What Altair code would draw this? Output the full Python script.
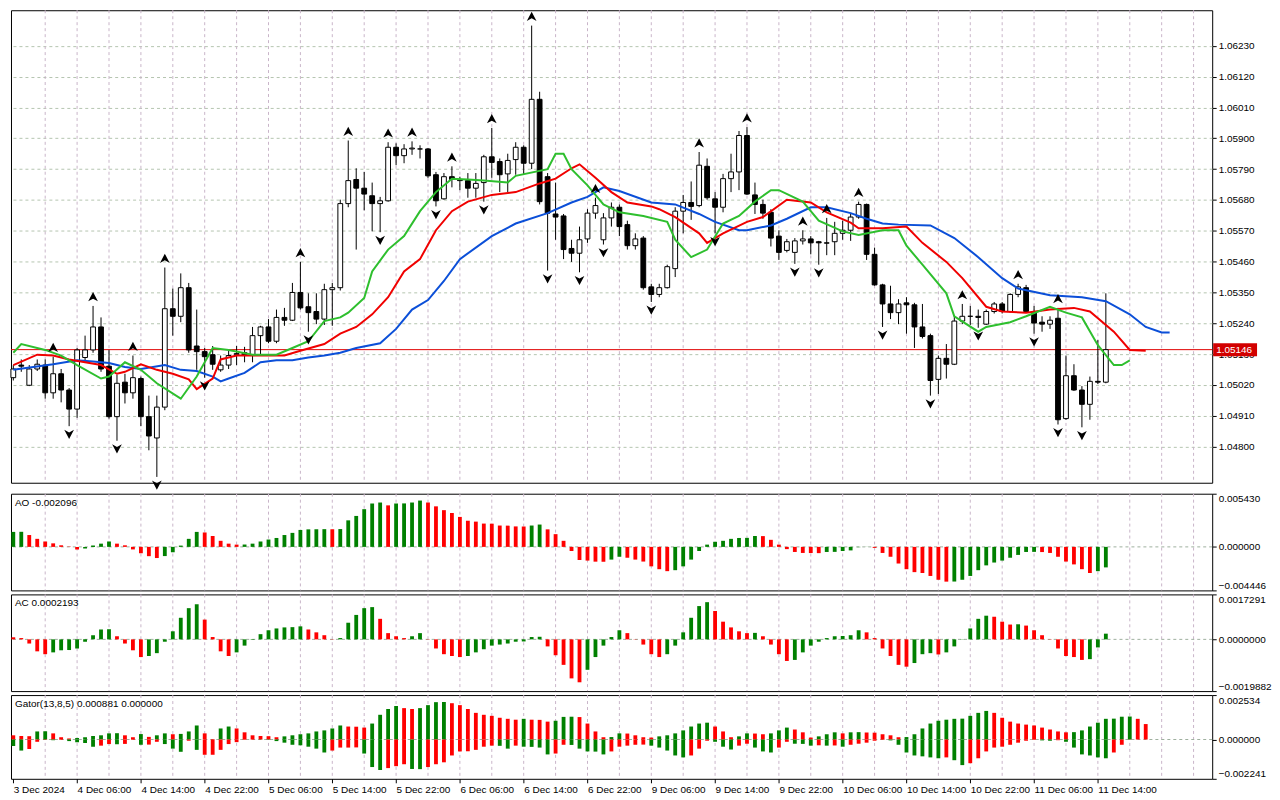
import altair as alt
import pandas as pd

# ---------------- data (EURUSD H1, 3 Dec 22:00 .. 11 Dec 15:00) ----------------
OPEN = [1.05046,1.05091,1.05019,1.05077,1.05091,1.04992,1.05060,1.05002,1.04934,1.05118,
        1.05145,1.05227,1.05087,1.04907,1.05030,1.04992,1.05043,1.04907,1.04831,1.04941,
        1.05292,1.05265,1.05367,1.05159,1.05139,1.05128,1.05074,1.05091,1.05128,1.05135,
        1.05125,1.05196,1.05227,1.05176,1.05261,1.05251,1.05350,1.05299,1.05282,1.05255,
        1.05360,1.05367,1.05667,1.05753,1.05722,1.05695,1.05667,1.05677,1.05868,1.05838,
        1.05862,1.05862,1.05862,1.05770,1.05684,1.05763,1.05753,1.05749,1.05722,1.05742,
        1.05834,1.05817,1.05773,1.05824,1.05868,1.05811,1.06039,1.05763,1.05630,1.05623,
        1.05507,1.05490,1.05541,1.05633,1.05538,1.05616,1.05654,1.05592,1.05517,1.05544,
        1.05370,1.05343,1.05367,1.05435,1.05640,1.05671,1.05660,1.05800,1.05684,1.05654,
        1.05756,1.05780,1.05910,1.05698,1.05664,1.05636,1.05551,1.05500,1.05493,1.05534,
        1.05541,1.05531,1.05527,1.05531,1.05561,1.05572,1.05619,1.05664,1.05486,1.05377,
        1.05309,1.05278,1.05313,1.05306,1.05227,1.05196,1.05040,1.05115,1.05094,1.05248,
        1.05265,1.05265,1.05237,1.05282,1.05309,1.05282,1.05343,1.05367,1.05278,1.05244,
        1.05237,1.05258,1.04900,1.05053,1.05002,1.04951,1.05033,1.05030]
HIGH = [1.05091,1.05111,1.05091,1.05111,1.05111,1.05121,1.05077,1.05009,1.05152,1.05196,
        1.05302,1.05261,1.05145,1.05057,1.05060,1.05125,1.05050,1.04982,1.04982,1.05439,
        1.05364,1.05418,1.05384,1.05289,1.05152,1.05159,1.05125,1.05145,1.05159,1.05156,
        1.05227,1.05231,1.05255,1.05289,1.05295,1.05384,1.05459,1.05347,1.05347,1.05381,
        1.05384,1.05681,1.05892,1.05793,1.05780,1.05742,1.05691,1.05886,1.05882,1.05879,
        1.05889,1.05875,1.05865,1.05780,1.05776,1.05800,1.05763,1.05776,1.05776,1.05841,
        1.05937,1.05828,1.05845,1.05886,1.05875,1.06302,1.06066,1.05776,1.05742,1.05630,
        1.05538,1.05585,1.05647,1.05688,1.05633,1.05671,1.05664,1.05606,1.05561,1.05551,
        1.05381,1.05381,1.05449,1.05654,1.05698,1.05746,1.05851,1.05828,1.05708,1.05773,
        1.05845,1.05926,1.05940,1.05742,1.05681,1.05647,1.05572,1.05541,1.05544,1.05572,
        1.05551,1.05534,1.05616,1.05602,1.05606,1.05630,1.05674,1.05667,1.05510,1.05381,
        1.05374,1.05326,1.05333,1.05313,1.05309,1.05203,1.05125,1.05166,1.05265,1.05309,
        1.05302,1.05289,1.05289,1.05316,1.05316,1.05347,1.05381,1.05377,1.05302,1.05265,
        1.05265,1.05295,1.05125,1.05094,1.05016,1.05050,1.05180,1.05347]
LOW = [1.05036,1.05067,1.05016,1.05070,1.04971,1.04971,1.04958,1.04873,1.04903,1.05108,
       1.05135,1.05067,1.04900,1.04821,1.04954,1.04971,1.04873,1.04787,1.04692,1.04930,
       1.05196,1.05244,1.05135,1.05074,1.05046,1.05074,1.05067,1.05077,1.05091,1.05101,
       1.05101,1.05128,1.05169,1.05169,1.05231,1.05248,1.05289,1.05210,1.05237,1.05234,
       1.05231,1.05357,1.05654,1.05503,1.05643,1.05568,1.05565,1.05674,1.05804,1.05811,
       1.05841,1.05828,1.05759,1.05657,1.05681,1.05725,1.05715,1.05688,1.05688,1.05674,
       1.05759,1.05708,1.05708,1.05770,1.05773,1.05790,1.05664,1.05428,1.05538,1.05469,
       1.05459,1.05422,1.05527,1.05613,1.05521,1.05585,1.05551,1.05503,1.05503,1.05360,
       1.05316,1.05333,1.05364,1.05405,1.05561,1.05609,1.05654,1.05681,1.05561,1.05636,
       1.05708,1.05715,1.05698,1.05630,1.05613,1.05514,1.05466,1.05493,1.05452,1.05521,
       1.05486,1.05449,1.05483,1.05483,1.05538,1.05534,1.05613,1.05466,1.05374,1.05227,
       1.05255,1.05237,1.05203,1.05152,1.05186,1.04982,1.04988,1.05043,1.05091,1.05237,
       1.05234,1.05224,1.05234,1.05275,1.05275,1.05278,1.05333,1.05278,1.05203,1.05210,
       1.05220,1.04879,1.04896,1.04999,1.04869,1.04896,1.05023,1.05026]
CLOSE = [1.05077,1.05087,1.05077,1.05094,1.04992,1.05060,1.05002,1.04934,1.05145,1.05145,
         1.05227,1.05077,1.04907,1.05026,1.04992,1.05046,1.04907,1.04838,1.04941,1.05292,
         1.05265,1.05367,1.05145,1.05139,1.05121,1.05094,1.05091,1.05125,1.05132,1.05125,
         1.05196,1.05227,1.05176,1.05261,1.05251,1.05350,1.05295,1.05278,1.05255,1.05360,
         1.05367,1.05667,1.05749,1.05722,1.05701,1.05667,1.05677,1.05868,1.05838,1.05862,
         1.05865,1.05862,1.05766,1.05677,1.05763,1.05753,1.05749,1.05722,1.05739,1.05834,
         1.05814,1.05770,1.05821,1.05868,1.05811,1.06039,1.05674,1.05633,1.05619,1.05503,
         1.05490,1.05538,1.05633,1.05660,1.05616,1.05654,1.05585,1.05517,1.05541,1.05367,
         1.05343,1.05367,1.05442,1.05640,1.05671,1.05657,1.05804,1.05688,1.05654,1.05756,
         1.05780,1.05910,1.05701,1.05664,1.05633,1.05544,1.05493,1.05531,1.05534,1.05541,
         1.05527,1.05527,1.05526,1.05561,1.05572,1.05619,1.05664,1.05486,1.05377,1.05309,
         1.05278,1.05309,1.05306,1.05227,1.05193,1.05036,1.05115,1.05094,1.05248,1.05265,
         1.05265,1.05261,1.05282,1.05309,1.05282,1.05343,1.05370,1.05282,1.05241,1.05237,
         1.05251,1.04896,1.05053,1.05002,1.04951,1.05033,1.05030,1.05146]
LAST_PRICE = 1.05146

FRACTAL_UP = [5, 10, 15, 19, 36, 42, 47, 50, 55, 60, 65, 73, 86, 92, 99, 102, 106, 119, 126, 131]
FRACTAL_DN = [7, 13, 18, 24, 37, 46, 53, 59, 67, 71, 74, 80, 88, 98, 101, 109, 115, 121, 128, 131, 134]

# Alligator (bar index, price)
JAW_I = [0,5,8,10,12,14,16,19,21,23,25,26,27,29,31,33,35,37,39,41,43,46,48,50,52,54,56,60,63,67,
         70,72,74,76,80,83,86,88,91,92,95,97,100,102,105,107,109,111,115,118,121,124,126,130,134,
         137,140,142,144,145]
JAW_P = [1.05074,1.05094,1.05108,1.05104,1.05098,1.05084,1.05077,1.05091,1.05074,1.05070,1.05050,
         1.05033,1.05043,1.05063,1.05101,1.05108,1.05108,1.05118,1.05125,1.05135,1.05152,1.05169,
         1.05220,1.05289,1.05323,1.05391,1.05469,1.05551,1.05596,1.05633,1.05671,1.05691,1.05725,
         1.05712,1.05671,1.05664,1.05630,1.05602,1.05572,1.05572,1.05589,1.05613,1.05654,1.05654,
         1.05633,1.05613,1.05596,1.05592,1.05589,1.05544,1.05476,1.05401,1.05364,1.05340,1.05333,
         1.05319,1.05272,1.05227,1.05207,1.05207]
TEETH_I = [0,3,5,7,9,11,13,14,16,18,20,22,23,25,26,28,31,34,36,39,41,43,45,47,49,51,53,55,57,60,
           63,66,68,70,71,73,75,77,80,81,83,86,87,89,92,94,97,100,102,105,106,109,112,114,117,119,
           122,124,127,130,133,135,138,140,142]
TEETH_P = [1.05091,1.05128,1.05125,1.05111,1.05101,1.05091,1.05060,1.05067,1.05094,1.05074,1.05060,
           1.05040,1.05005,1.05043,1.05111,1.05125,1.05125,1.05125,1.05142,1.05166,1.05203,1.05227,
           1.05272,1.05333,1.05425,1.05469,1.05572,1.05640,1.05674,1.05698,1.05708,1.05739,1.05756,
           1.05793,1.05807,1.05759,1.05708,1.05671,1.05657,1.05647,1.05619,1.05561,1.05527,1.05561,
           1.05602,1.05619,1.05681,1.05671,1.05636,1.05599,1.05579,1.05579,1.05585,1.05527,1.05459,
           1.05401,1.05299,1.05282,1.05278,1.05289,1.05295,1.05282,1.05210,1.05145,1.05142]
LIPS_I = [0,1,4,6,8,11,12,14,16,18,21,23,25,27,30,33,35,37,39,41,42,44,45,47,49,51,53,55,57,59,
          62,63,67,68,69,70,72,74,76,79,82,83,85,87,89,91,93,95,96,99,101,104,106,109,111,112,114,
          117,118,121,122,125,127,130,132,134,136,138,139,140]
LIPS_P = [1.05135,1.05166,1.05145,1.05125,1.05091,1.05043,1.05050,1.05101,1.05074,1.05026,1.04971,
          1.05050,1.05152,1.05145,1.05128,1.05128,1.05152,1.05176,1.05248,1.05261,1.05278,1.05330,
          1.05425,1.05503,1.05551,1.05640,1.05708,1.05756,1.05753,1.05749,1.05742,1.05766,1.05790,
          1.05845,1.05845,1.05790,1.05732,1.05664,1.05636,1.05623,1.05602,1.05538,1.05476,1.05503,
          1.05596,1.05623,1.05674,1.05715,1.05715,1.05674,1.05606,1.05568,1.05555,1.05572,1.05572,
          1.05517,1.05449,1.05347,1.05265,1.05210,1.05227,1.05244,1.05265,1.05299,1.05278,1.05261,
          1.05162,1.05091,1.05091,1.05108]

AO = [0.00153,0.00154,0.00121,0.00082,0.00055,0.00036,0.00016,0.00003,-0.00026,-0.00016,
      0.00013,0.00033,0.00055,0.00033,0.00016,-0.00026,-0.00065,-0.00095,-0.00114,-0.00094,
      -0.00055,0.00013,0.00082,0.00153,0.00147,0.00111,0.00062,0.00033,0.00023,0.00024,
      0.00033,0.00055,0.00075,0.00091,0.00121,0.00143,0.00173,0.00179,0.00180,0.00181,
      0.00180,0.00182,0.00271,0.00316,0.00385,0.00443,0.00453,0.00424,0.00443,0.00444,
      0.00453,0.00473,0.00453,0.00414,0.00375,0.00346,0.00306,0.00267,0.00258,0.00238,
      0.00237,0.00218,0.00217,0.00209,0.00208,0.00218,0.00228,0.00179,0.00130,0.00062,
      -0.00042,-0.00134,-0.00140,-0.00151,-0.00152,-0.00130,-0.00101,-0.00111,-0.00130,-0.00150,
      -0.00199,-0.00228,-0.00248,-0.00238,-0.00199,-0.00130,-0.00042,0.00023,0.00052,0.00062,
      0.00082,0.00091,0.00092,0.00111,0.00110,0.00072,0.00023,-0.00023,-0.00052,-0.00062,
      -0.00063,-0.00064,-0.00052,-0.00051,-0.00042,-0.00036,-0.00003,0.00001,-0.00010,-0.00062,
      -0.00101,-0.00170,-0.00228,-0.00258,-0.00267,-0.00297,-0.00336,-0.00355,-0.00354,-0.00336,
      -0.00297,-0.00238,-0.00189,-0.00160,-0.00140,-0.00111,-0.00082,-0.00052,-0.00051,-0.00053,
      -0.00062,-0.00101,-0.00150,-0.00179,-0.00228,-0.00267,-0.00248,-0.002096]
AO_FIRST_UP = True
AC = [0.00008,0.00005,-0.00016,-0.00046,-0.00057,-0.00050,-0.00042,-0.00041,-0.00035,-0.00009,
      0.00016,0.00038,0.00039,0.00012,-0.00016,-0.00042,-0.00068,-0.00064,-0.00053,-0.00009,
      0.00031,0.00083,0.00120,0.00135,0.00076,0.00009,-0.00046,-0.00064,-0.00050,-0.00024,
      -0.00002,0.00020,0.00035,0.00042,0.00046,0.00047,0.00050,0.00038,0.00027,0.00016,
      0.00001,0.00005,0.00064,0.00094,0.00120,0.00124,0.00079,0.00024,0.00012,0.00005,
      0.00012,0.00024,-0.00001,-0.00035,-0.00057,-0.00064,-0.00068,-0.00064,-0.00050,-0.00038,
      -0.00024,-0.00020,-0.00016,-0.00009,-0.00008,0.00009,0.00010,-0.00027,-0.00061,-0.00098,
      -0.00150,-0.00165,-0.00117,-0.00068,-0.00024,0.00009,0.00035,0.00024,-0.00001,-0.00020,
      -0.00057,-0.00068,-0.00057,-0.00024,0.00027,0.00083,0.00128,0.00143,0.00109,0.00068,
      0.00046,0.00031,0.00024,0.00025,0.00012,-0.00020,-0.00057,-0.00083,-0.00079,-0.00050,
      -0.00024,-0.00009,0.00005,0.00012,0.00013,0.00016,0.00035,0.00027,0.00005,-0.00035,
      -0.00064,-0.00098,-0.00105,-0.00091,-0.00057,-0.00053,-0.00058,-0.00050,-0.00027,-0.00001,
      0.00042,0.00079,0.00091,0.00087,0.00068,0.00057,0.00058,0.00053,0.00035,0.00016,
      0.00001,-0.00035,-0.00064,-0.00068,-0.00079,-0.00076,-0.00031,0.0002193]
AC_FIRST_UP = False

GATOR_UP = [0.00024,0.00020,0.00019,0.00046,0.00047,0.00035,0.00013,0.00006,0.00009,0.00013,
            0.00020,0.00024,0.00035,0.00036,0.00024,0.00013,0.00031,0.00015,0.00024,0.00035,
            0.00030,0.00032,0.00046,0.00080,0.00035,0.00002,0.00063,0.00074,0.00063,0.00041,
            0.00024,0.00020,0.00019,0.00013,0.00018,0.00024,0.00030,0.00035,0.00046,0.00052,
            0.00063,0.00080,0.00074,0.00073,0.00068,0.00091,0.00141,0.00174,0.00191,0.00179,
            0.00174,0.00179,0.00196,0.00213,0.00214,0.00207,0.00196,0.00174,0.00152,0.00141,
            0.00135,0.00124,0.00118,0.00113,0.00118,0.00113,0.00112,0.00102,0.00107,0.00129,
            0.00130,0.00128,0.00091,0.00046,0.00013,0.00014,0.00035,0.00034,0.00024,0.00013,
            0.00011,0.00018,0.00024,0.00035,0.00052,0.00074,0.00091,0.00096,0.00074,0.00046,
            0.00013,0.00018,0.00035,0.00034,0.00030,0.00035,0.00052,0.00068,0.00057,0.00041,
            0.00011,0.00018,0.00030,0.00041,0.00035,0.00041,0.00042,0.00040,0.00039,0.00030,
            0.00024,0.00013,0.00014,0.00030,0.00063,0.00091,0.00107,0.00113,0.00118,0.00119,
            0.00135,0.00152,0.00163,0.00152,0.00124,0.00102,0.00091,0.00085,0.00080,0.00068,
            0.00057,0.00046,0.00041,0.00042,0.00052,0.00074,0.00096,0.00118,0.00119,0.00130,
            0.00131,0.00118,0.000881]
GATOR_UP_COLOR = ("rrrggrrrgg" "ggggrrgrgg" "rgggrrggrr" "rrrrgggggg" "ggrrrggggr"
                  "rggggrrrrr" "rrrrgrrrgg" "grrrrggrrr" "rgggggggrr" "rggrrgggrr"
                  "rgggrggrrr" "rrgggggggg" "gggrrrrrrr" "rrrggggggg" "grr")
GATOR_DN = [0.00037,0.00063,0.00054,0.00013,0.00002,0.00004,0.00002,0.00009,0.00015,0.00020,
            0.00041,0.00035,0.00026,0.00027,0.00025,0.00002,0.00030,0.00029,0.00013,0.00026,
            0.00052,0.00070,0.00007,0.00059,0.00087,0.00087,0.00059,0.00026,0.00015,0.00002,
            0.00001,0.00001,0.00002,0.00009,0.00018,0.00030,0.00033,0.00041,0.00052,0.00074,
            0.00063,0.00046,0.00046,0.00045,0.00080,0.00157,0.00174,0.00163,0.00152,0.00141,
            0.00168,0.00169,0.00157,0.00141,0.00130,0.00091,0.00068,0.00067,0.00059,0.00041,
            0.00035,0.00036,0.00052,0.00035,0.00041,0.00042,0.00046,0.00085,0.00080,0.00030,
            0.00031,0.00052,0.00068,0.00069,0.00085,0.00068,0.00041,0.00035,0.00030,0.00029,
            0.00035,0.00046,0.00063,0.00091,0.00102,0.00091,0.00052,0.00007,0.00013,0.00041,
            0.00057,0.00035,0.00024,0.00046,0.00068,0.00074,0.00046,0.00013,0.00024,0.00025,
            0.00035,0.00033,0.00035,0.00034,0.00041,0.00030,0.00024,0.00018,0.00007,0.00002,
            0.00005,0.00030,0.00074,0.00091,0.00096,0.00102,0.00107,0.00102,0.00118,0.00146,
            0.00135,0.00107,0.00068,0.00046,0.00041,0.00030,0.00018,0.00007,0.00002,0.00005,
            0.00007,0.00004,0.00013,0.00046,0.00085,0.00091,0.00102,0.00107,0.00074,0.00030,
            0.00001]
GATOR_DN_COLOR = ("ggrrrgrggg" "grrgrrgrrg" "ggrgrrrrrr" "rggggggggg" "rrrrgggrrr"
                  "ggrrrrrrrr" "rggrggggrr" "gggggrrrrr" "gggggrrrgg" "grrgggrrgg"
                  "grgrgrrrrr" "gggggggrgg" "rrrrrrrrrg" "grggggggrr" "r")

PRICE_TICKS = [1.04800, 1.04910, 1.05020, 1.05130, 1.05240, 1.05350, 1.05460, 1.05570,
               1.05680, 1.05790, 1.05900, 1.06010, 1.06120, 1.06230]
PRICE_DOMAIN = [1.04689, 1.06339]
AO_DOMAIN = [-0.004446, 0.005430]
AC_DOMAIN = [-0.0019882, 0.0017291]
GATOR_DOMAIN = [-0.002241, 0.002534]
AO_TITLE = "AO -0.002096"
AC_TITLE = "AC 0.0002193"
GATOR_TITLE = "Gator(13,8,5) 0.000881 0.000000"
X_LABEL_BARS = list(range(0, 137, 8))
X_LABELS = ["3 Dec 2024", "4 Dec 06:00", "4 Dec 14:00", "4 Dec 22:00", "5 Dec 06:00",
            "5 Dec 14:00", "5 Dec 22:00", "6 Dec 06:00", "6 Dec 14:00", "6 Dec 22:00",
            "9 Dec 06:00", "9 Dec 14:00", "9 Dec 22:00", "10 Dec 06:00", "10 Dec 14:00",
            "10 Dec 22:00", "11 Dec 06:00", "11 Dec 14:00"]

# ---------------- layout / style ----------------
W = 1205
BAR_PX = 8.0
X_DOMAIN = [-0.29, -0.29 + W / BAR_PX]
MAIN_H, AO_H, AC_H, GT_H = 474, 97, 97, 84
FONT = "Liberation Sans"
GRID_V = "#C9B5C9"
GRID_H = "#B5C5B0"
GREEN = "#008000"
RED = "#FF0000"

xs = alt.Scale(domain=X_DOMAIN, nice=False, zero=False)


def X(field, axis=None):
    return alt.X(field, type="quantitative", scale=xs, axis=axis, title=None)


grid_df = pd.DataFrame({"g": list(range(4, int(X_DOMAIN[1]) + 1, 4))})

# ---------------- main price panel ----------------
n = len(OPEN)
candles = pd.DataFrame({"i": range(n), "open": OPEN, "high": HIGH, "low": LOW, "close": CLOSE})
candles["x0"] = candles["i"] - 0.3
candles["x1"] = candles["i"] + 0.3

ps = alt.Scale(domain=PRICE_DOMAIN, nice=False, zero=False)
price_axis = alt.Axis(orient="right", values=PRICE_TICKS, format=".5f", grid=True,
                      gridColor=GRID_H, gridDash=[3, 3], gridWidth=1, tickSize=4,
                      domain=False, labelPadding=2, title=None)


def PY(field):
    return alt.Y(field, type="quantitative", scale=ps, axis=price_axis)


vgrid_main = alt.Chart(grid_df).mark_rule(color=GRID_V, strokeDash=[3, 3], strokeWidth=1).encode(x=X("g"))
bid_df = pd.DataFrame({"p": [LAST_PRICE], "t": [f"{LAST_PRICE:.5f}"]})
bid_line = alt.Chart(bid_df).mark_rule(color="#E00000", strokeWidth=1).encode(y=PY("p"))
wicks = alt.Chart(candles).mark_rule(color="black", strokeWidth=1).encode(
    x=X("i"), y=PY("low"), y2="high")
bodies = alt.Chart(candles).mark_rect(stroke="black", strokeWidth=1).encode(
    x=X("x0"), x2="x1", y=PY("open"), y2="close",
    fill=alt.condition("datum.close >= datum.open", alt.value("white"), alt.value("black")))


def line(idx, vals, color):
    df = pd.DataFrame({"i": idx, "p": vals})
    return alt.Chart(df).mark_line(color=color, strokeWidth=2).encode(x=X("i"), y=PY("p"))


jaw = line(JAW_I, JAW_P, "#0B4FD8")
teeth = line(TEETH_I, TEETH_P, "#F00000")
lips = line(LIPS_I, LIPS_P, "#2EBF2E")

up_df = candles.loc[FRACTAL_UP, ["i", "high"]]
dn_df = candles.loc[FRACTAL_DN, ["i", "low"]]
UP_SHAPE = "M0,-1L1,0.9L0,0.35L-1,0.9Z"
DN_SHAPE = "M0,1L1,-0.9L0,-0.35L-1,-0.9Z"
frac_up = alt.Chart(up_df).mark_point(shape=UP_SHAPE, filled=True, color="black", size=95,
                                     opacity=1, yOffset=-9).encode(x=X("i"), y=PY("high"))
frac_dn = alt.Chart(dn_df).mark_point(shape=DN_SHAPE, filled=True, color="black", size=95,
                                     opacity=1, yOffset=8).encode(x=X("i"), y=PY("low"))

price_box = alt.Chart(bid_df).mark_bar(color="#D20000", size=13, orient="horizontal").encode(
    x=alt.value(W + 1), x2=alt.value(W + 45), y=PY("p"))
price_txt = alt.Chart(bid_df).mark_text(color="white", align="left", baseline="middle",
                                        font=FONT, fontSize=10).encode(
    x=alt.value(W + 4), y=PY("p"), text="t:N")

main = alt.layer(vgrid_main, bid_line, wicks, bodies, jaw, teeth, lips, frac_up, frac_dn,
                 price_box, price_txt).properties(width=W, height=MAIN_H)


# ---------------- indicator panels ----------------
def colours_from_values(vals, first_up):
    flags = [1 if first_up else 0]
    for k in range(1, len(vals)):
        flags.append(1 if vals[k] > vals[k - 1] else 0)
    return flags


def panel(series_list, domain, fmt, title, height, xaxis=None):
    ys = alt.Scale(domain=domain, nice=False, zero=False)
    yaxis = alt.Axis(orient="right", values=[domain[0], 0, domain[1]], format=fmt,
                     labelFlush=True, grid=False, tickSize=4, domain=False,
                     labelPadding=2, title=None)
    layers = [alt.Chart(grid_df).mark_rule(color=GRID_V, strokeDash=[3, 3], strokeWidth=1)
              .encode(x=X("g", xaxis))]
    layers.append(alt.Chart(pd.DataFrame({"z": [0.0]})).mark_rule(
        color="#9FB09F", strokeDash=[3, 3], strokeWidth=1).encode(
        y=alt.Y("z:Q", scale=ys, axis=yaxis)))
    for vals, flags in series_list:
        df = pd.DataFrame({"i": range(len(vals)), "v": vals, "up": flags})
        df["x0"] = df["i"] - 0.24
        df["x1"] = df["i"] + 0.24
        df["z"] = 0.0
        layers.append(alt.Chart(df).mark_rect().encode(
            x=X("x0", xaxis), x2="x1",
            y=alt.Y("v:Q", scale=ys, axis=yaxis), y2="z",
            color=alt.condition("datum.up == 1", alt.value(GREEN), alt.value(RED))))
    layers.append(alt.Chart(pd.DataFrame({"t": [title]})).mark_text(
        align="left", baseline="middle", font=FONT, fontSize=10, color="black").encode(
        x=alt.value(4), y=alt.value(9), text="t:N"))
    return alt.layer(*layers).properties(width=W, height=height)


ao_panel = panel([(AO, colours_from_values(AO, AO_FIRST_UP))], AO_DOMAIN, ".6f", AO_TITLE, AO_H)
ac_panel = panel([(AC, colours_from_values(AC, AC_FIRST_UP))], AC_DOMAIN, ".7f", AC_TITLE, AC_H)

label_expr = "''"
for pos, lab in reversed(list(zip(X_LABEL_BARS, X_LABELS))):
    label_expr = f"datum.value == {pos} ? '{lab}' : ({label_expr})"
x_axis = alt.Axis(values=X_LABEL_BARS, labelExpr=label_expr, labelAlign="left", labelPadding=2,
                  tickSize=4, domain=False, grid=False, labelOverlap=False, title=None,
                  labelBound=False)

gator_panel = panel([
    (GATOR_UP, [1 if c == "g" else 0 for c in GATOR_UP_COLOR]),
    ([-v for v in GATOR_DN], [1 if c == "g" else 0 for c in GATOR_DN_COLOR]),
], GATOR_DOMAIN, ".6f", GATOR_TITLE, GT_H, xaxis=x_axis)

chart = alt.vconcat(main, ao_panel, ac_panel, gator_panel, spacing=2).resolve_scale(
    x="independent", y="independent").properties(
    padding={"left": 0, "top": 0, "right": 0, "bottom": 0}).configure_view(
    stroke="black", strokeWidth=1).configure_axis(
    labelFont=FONT, labelFontSize=10, labelColor="black", tickColor="black")

chart.save("out.html", embed_options={"renderer": "svg", "actions": False})
